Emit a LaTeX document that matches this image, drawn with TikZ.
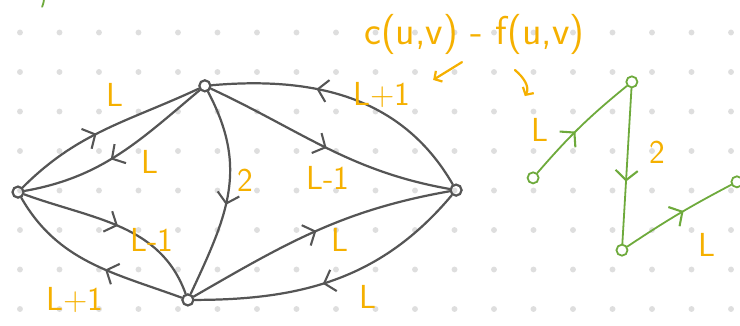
\documentclass[tikz,border=0pt]{standalone}
\usepackage{tikz}
\usepackage{xcolor}
\usetikzlibrary{arrows.meta,decorations.markings}
\definecolor{inkgray}{HTML}{555555}
\definecolor{inkorange}{HTML}{F5B000}
\definecolor{inkgreen}{HTML}{6EAA3C}
\definecolor{dotgray}{HTML}{DEDEDE}

\begin{document}
\begin{tikzpicture}[
  vtx/.style={circle, draw=inkgray, line width=1.6pt, inner sep=0pt, minimum size=0.28cm},
  gvtx/.style={circle, draw=inkgreen, line width=1.3pt, inner sep=0pt, minimum size=0.28cm},
  edge/.style={inkgray, line width=1.6pt, line cap=round},
  gedge/.style={inkgreen, line width=1.3pt, line cap=round},
  midarr/.style={postaction={decorate}, decoration={markings,
    mark=at position #1 with {\arrow{Straight Barb[length=7pt,width=16pt,line width=1.5pt]}}}},
  midarr/.default=0.5,
  capl/.style={text=inkorange, font=\fontsize{24}{28}\selectfont\sffamily},
  note/.style={inkorange, line width=1.6pt, line cap=round}
]
\useasboundingbox (-0.506,-0.405) rectangle (18.228,7.823);
% dotted paper
\foreach \i in {0,...,18}
  \foreach \j in {0,...,7}
    \fill[dotgray] (\i,\j) circle (0.075);
% left graph
\node[vtx] (s) at (-0.05,2.96) {};
\node[vtx] (a) at (4.68,5.65) {};
\node[vtx] (t) at (11.04,3.01) {};
\node[vtx] (b) at (4.25,0.23) {};
\draw[edge, midarr=0.45] (s) to[out=45,in=205] (a);
\draw[edge, midarr=0.55] (a) to[out=220,in=10] (s);
\draw[edge, midarr=0.55] (a) to[out=-62,in=65,looseness=1.1] (b);
\draw[edge, midarr=0.5] (a) to[out=-25,in=170] (t);
\draw[edge, midarr=0.62] (t) to[out=120,in=5] (a);
\draw[edge, midarr=0.5] (s) to[out=-20,in=110] (b);
\draw[edge, midarr=0.42] (b) to[out=160,in=-60] (s);
\draw[edge, midarr=0.5] (b) to[out=30,in=190] (t);
\draw[edge, midarr=0.55] (t) to[out=230,in=0] (b);
% capacities
\node[capl] (lsa) at (2.41,5.42) {L};
\node[capl] (las) at (3.29,3.72) {L};
\node[capl] (lab) at (5.70,3.27) {2};
\node[capl] (lat) at (7.80,3.32) {L-1};
\node[capl] (lta) at (9.16,5.42) {L+1};
\node[capl] (lsb) at (3.34,1.75) {L-1};
\node[capl] (lbs) at (1.39,0.23) {L+1};
\node[capl] (lbt) at (8.10,1.75) {L};
\node[capl] (ltb) at (8.81,0.30) {L};
% residual note
\node[capl, font=\fontsize{29}{32}\selectfont\sffamily] (res) at (11.5,6.94) {c(u,v) - f(u,v)};
\coordinate (n1) at (11.19,6.25);
\coordinate (n2) at (10.46,5.80);
\draw[note, -{Straight Barb[length=4pt,width=9pt]}] (n1) -- (n2);
\coordinate (c1) at (12.53,6.05);
\coordinate (c2) at (12.78,5.39);
\draw[note, -{Straight Barb[length=4pt,width=9pt]}] (c1) to[out=-40,in=60] (c2);
% augmenting path
\node[gvtx] (g1) at (12.99,3.32) {};
\node[gvtx] (g2) at (15.49,5.75) {};
\node[gvtx] (g3) at (15.24,1.49) {};
\node[gvtx] (g4) at (18.15,3.22) {};
\draw[gedge, midarr=0.45] (g1) to[bend left=5] (g2);
\draw[gedge, midarr=0.6] (g2) -- (g3);
\draw[gedge, midarr=0.55] (g3) to[bend left=3] (g4);
\node[capl] (lg1) at (13.16,4.53) {L};
\node[capl] (lg2) at (16.13,3.97) {2};
\node[capl] (lg3) at (17.39,1.62) {L};
\draw[gedge] (0.61,7.9) to[bend left=10] (0.56,7.65);
\end{tikzpicture}
\end{document}
